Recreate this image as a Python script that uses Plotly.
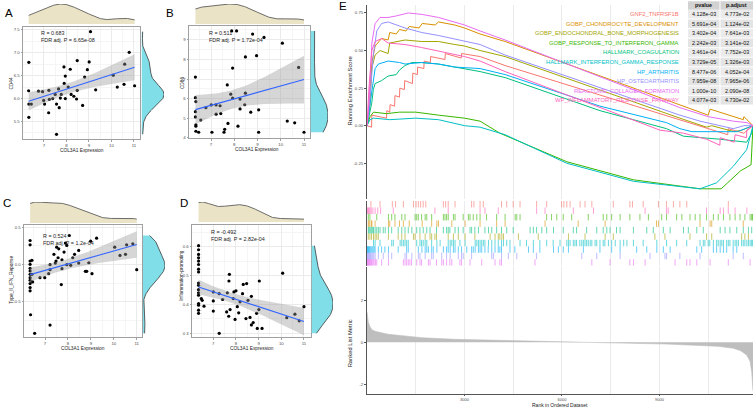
import numpy as np
import plotly.graph_objects as go

W, H = 755, 410
FONT = "Liberation Sans, Arial, sans-serif"

# ---------------- scatter panel data ----------------
A_x = [9.07, 10.79, 6.33, 8.48, 9.01, 7.89, 8.17, 8.93, 10.59, 10.08, 8.81, 7.95, 7.90, 8.08, 6.32,
       6.76, 6.94, 7.22, 7.65, 8.48, 9.30, 10.26, 10.56, 11.03, 7.77, 7.50, 7.39, 7.24, 7.73, 8.21,
       8.33, 8.45, 6.33, 6.44, 6.99, 7.03, 7.56, 7.68, 7.21, 8.72, 6.33, 7.56, 7.95]
A_y = [7.46, 7.01, 6.79, 6.83, 6.80, 6.69, 6.64, 6.63, 6.75, 6.51, 6.47, 6.49, 6.33, 6.25, 6.17,
       6.16, 6.15, 6.18, 6.21, 6.18, 6.19, 6.25, 6.31, 6.28, 6.09, 6.09, 6.00, 5.98, 6.01, 6.09,
       6.05, 5.99, 5.88, 5.88, 5.96, 5.88, 5.88, 5.80, 5.69, 5.85, 5.59, 5.22, 6.00]

B_x = [7.89, 8.10, 8.79, 9.28, 10.07, 8.48, 8.96, 7.93, 10.77, 6.33, 6.33, 6.35, 7.70, 7.85, 7.93,
       8.25, 8.48, 7.01, 7.22, 7.39, 6.78, 8.45, 8.25, 9.05, 8.71, 7.42, 7.22, 6.33, 6.33, 6.56,
       7.73, 6.35, 6.35, 8.16, 10.28, 10.60, 7.59, 6.35, 6.47, 7.04, 7.56, 9.05, 11.0]
B_y = [9.45, 9.45, 9.29, 9.12, 8.83, 8.13, 8.19, 7.56, 7.59, 7.10, 6.05, 5.85, 6.70, 6.23, 6.03,
       5.98, 6.28, 5.68, 5.68, 5.64, 5.54, 5.69, 5.48, 5.43, 5.31, 5.24, 5.21, 5.34, 5.07, 4.91,
       4.74, 4.67, 4.60, 4.60, 4.86, 4.77, 4.44, 4.34, 4.29, 4.29, 4.29, 4.29, 4.29]

C_x = [8.06, 6.35, 6.35, 9.25, 8.99, 7.89, 7.95, 7.51, 7.60, 7.83, 7.39, 8.47, 8.29, 8.21, 7.57,
       7.74, 7.48, 7.45, 7.22, 8.47, 7.95, 8.12, 8.91, 7.74, 7.22, 6.35, 6.43, 6.35, 6.35, 6.35,
       6.35, 6.35, 6.35, 6.35, 6.35, 6.35, 6.43, 6.46, 6.78, 6.99, 7.16, 8.76, 8.82, 9.05, 10.04,
       10.27, 10.51, 10.56, 10.83, 11.0, 7.71, 6.37, 7.22, 6.55]
C_y = [0.389, 0.322, 0.264, 0.353, 0.313, 0.287, 0.256, 0.233, 0.211, 0.167, 0.136, 0.189, 0.136,
       0.091, 0.091, 0.064, 0.047, 0.020, -0.002, 0.020, -0.002, -0.011, 0.024, -0.056, -0.069,
       0.047, 0.056, 0.002, -0.051, -0.087, -0.131, -0.176, -0.211, -0.256, -0.309, -0.353, -0.131,
       -0.233, -0.176, -0.176, -0.122, -0.091, -0.091, -0.122, 0.233, 0.122, 0.136, 0.264, 0.278,
       -0.069, -0.269, -0.673, -0.811, -0.922]

D_x = [6.35, 6.35, 6.35, 6.35, 6.35, 6.35, 6.35, 6.35, 6.35, 6.35, 6.35, 6.35, 6.35, 6.35, 6.35,
       6.35, 6.35, 6.47, 6.51, 6.59, 7.0, 7.0, 7.0, 7.26, 7.41, 7.62, 7.59, 7.68, 7.74, 7.71, 7.69,
       7.88, 7.91, 8.0, 7.96, 8.06, 8.12, 8.18, 8.32, 8.47, 8.29, 8.53, 8.68, 8.44, 8.62, 8.68, 8.91,
       9.01, 9.03, 8.76, 8.94, 9.15, 10.06, 10.24, 10.60, 10.79, 11.0, 7.26]
D_y = [0.603, 0.589, 0.573, 0.561, 0.550, 0.538, 0.522, 0.512, 0.474, 0.466, 0.451, 0.440, 0.432,
       0.403, 0.397, 0.380, 0.369, 0.420, 0.414, 0.394, 0.443, 0.412, 0.377, 0.437, 0.417, 0.440,
       0.374, 0.359, 0.382, 0.504, 0.481, 0.420, 0.443, 0.447, 0.348, 0.392, 0.371, 0.409, 0.469,
       0.472, 0.437, 0.414, 0.428, 0.351, 0.355, 0.329, 0.369, 0.382, 0.481, 0.337, 0.317, 0.317,
       0.508, 0.354, 0.366, 0.343, 0.392, 0.300]

PANEL_LETTERS = ["A", "B", "C", "D", "E"]
Y_TITLES = ["CD44", "CD86", "Type_II_IFN_Reponse", "Inflammation-promoting"]
X_TITLE = "COL3A1 Expression"
STAT_R = ["R = 0.683", "R = 0.511", "R = 0.524", "R = -0.492"]
STAT_P = ["FDR adj. P = 6.65e-08", "FDR adj. P = 1.72e-04", "FDR adj. P = 1.2e-04", "FDR adj. P = 2.82e-04"]
X_TICKS = [7, 8, 9, 10, 11]
A_YTICKS = [5.5, 6.0, 6.5, 7.0, 7.5]
B_YTICKS = [4, 5, 6, 7, 8, 9]
C_YTICKS = [-0.5, 0.0, 0.5]
D_YTICKS = [0.3, 0.4, 0.5, 0.6]

# ---------------- GSEA data ----------------
SET_NAMES = ["GNF2_TNFRSF1B", "GOBP_CHONDROCYTE_DEVELOPMENT", "GOBP_ENDOCHONDRAL_BONE_MORPHOGENESIS",
             "GOBP_RESPONSE_TO_INTERFERON_GAMMA", "HALLMARK_COAGULATION",
             "HALLMARK_INTERFERON_GAMMA_RESPONSE", "HP_ARTHRITIS", "HP_OSTEOARTHRITIS",
             "REACTOME_COLLAGEN_FORMATION", "WP_INFLAMMATORY_RESPONSE_PATHWAY"]
PVALUE = ["4.128e-03", "5.691e-04", "3.402e-04", "2.242e-03", "3.461e-04",
          "3.729e-05", "8.477e-06", "7.959e-08", "1.000e-10", "4.077e-03"]
PADJUST = ["4.773e-02", "1.124e-02", "7.641e-03", "3.141e-02", "7.752e-03",
           "1.326e-03", "4.052e-04", "7.965e-06", "2.090e-08", "4.730e-02"]
SET_COLORS = ["#F8766D", "#D89000", "#A3A500", "#39B600", "#00BF7D",
              "#00BFC4", "#00B0F6", "#9590FF", "#E76BF3", "#FF62BC"]
TICK_ROW = [0, 3, 5, 2, 4, 6, 7, 8, 9, 1]   # row from top in the hit strip

ES_R_GNF2 = [0, 140, 150, 600, 610, 700, 710, 850, 860, 1000, 1010, 1150, 1160, 1400, 1410, 1550, 1560,
             1750, 1760, 1950, 1960, 2400, 2410, 2900, 2910, 3480, 4250, 9630, 10500, 11100, 11120, 11600, 11880]
ES_V_GNF2 = [0, -0.01, 0.07, 0.05, 0.10, 0.09, 0.14, 0.13, 0.20, 0.19, 0.25, 0.24, 0.30, 0.28, 0.35, 0.34, 0.39,
             0.38, 0.43, 0.42, 0.46, 0.44, 0.48, 0.45, 0.48, 0.46, 0.40, 0.04, -0.02, -0.06, -0.02, -0.05, 0]
ES_R_CHONDRO = [0, 60, 150, 250, 450, 650, 700, 900, 1000, 1200, 1300, 1600, 1700, 2100, 2200, 2700, 3000,
                3480, 4250, 9630, 10500, 10560, 11275, 11580, 11600, 11880]
ES_V_CHONDRO = [0, 0.10, 0.42, 0.53, 0.58, 0.57, 0.62, 0.61, 0.64, 0.63, 0.66, 0.65, 0.68, 0.67, 0.69, 0.67,
                0.65, 0.61, 0.56, 0.14, 0.07, 0.11, 0.06, 0.04, 0.06, 0]
ES_R_ENDO = [0, 95, 145, 250, 400, 650, 700, 1170, 1680, 2200, 2700, 3000, 3480, 4250, 9630, 10450, 10610,
             11300, 11530, 11880]
ES_V_ENDO = [0, 0.15, 0.38, 0.47, 0.50, 0.48, 0.55, 0.57, 0.56, 0.56, 0.54, 0.53, 0.50, 0.46, 0.05, -0.01, 0.0,
             -0.04, -0.03, 0]
ES_R_IFNG = [0, 40, 95, 200, 600, 1000, 1500, 2200, 3000, 3480, 4090, 6150, 8200, 10250, 10900, 11100, 11500,
             11820, 11850, 11880]
ES_V_IFNG = [0, 0.02, 0.06, 0.09, 0.08, 0.09, 0.09, 0.07, 0.05, 0.03, -0.05, -0.24, -0.36, -0.42, -0.42, -0.38,
             -0.30, -0.26, -0.12, 0]
ES_R_COAG = [0, 60, 145, 195, 250, 450, 650, 900, 1000, 1170, 1380, 1680, 2200, 2700, 3480, 4250, 7170, 9220,
             9740, 10860, 11685, 11840, 11880]
ES_V_COAG = [0, 0.07, 0.15, 0.24, 0.28, 0.30, 0.33, 0.34, 0.37, 0.40, 0.42, 0.42, 0.41, 0.39, 0.36, 0.32, 0.10,
             -0.02, -0.07, -0.09, -0.11, -0.05, 0]
ES_R_IFNGR = [0, 40, 95, 200, 700, 1500, 2200, 3000, 3480, 4250, 6150, 8200, 10250, 10760, 11275, 11685, 11840,
              11880]
ES_V_IFNGR = [0, 0.02, 0.04, 0.05, 0.04, 0.05, 0.04, 0.0, -0.01, -0.06, -0.25, -0.37, -0.42, -0.38, -0.27,
              -0.16, -0.03, 0]
ES_R_ARTH = [0, 95, 195, 250, 350, 650, 1000, 1170, 1680, 2200, 2700, 3480, 4250, 7170, 9220, 9630, 10000,
             11000, 11400, 11880]
ES_V_ARTH = [0, 0.15, 0.28, 0.38, 0.41, 0.43, 0.42, 0.41, 0.42, 0.41, 0.39, 0.38, 0.34, 0.13, 0.02, -0.02,
             -0.04, -0.04, -0.04, 0]
ES_R_OSTEO = [0, 95, 195, 300, 450, 650, 1170, 1680, 2200, 3000, 3480, 4250, 9630, 10250, 11000, 11275, 11600,
              11880]
ES_V_OSTEO = [0, 0.20, 0.47, 0.63, 0.68, 0.69, 0.65, 0.62, 0.60, 0.56, 0.54, 0.47, 0.07, 0.03, -0.01, -0.02,
              0.0, 0]
ES_R_COLL = [0, 40, 95, 150, 250, 400, 650, 900, 1270, 1700, 2200, 3000, 3480, 4250, 9630, 10500, 11275,
             11700, 11880]
ES_V_COLL = [0, 0.08, 0.30, 0.55, 0.68, 0.72, 0.72, 0.73, 0.75, 0.74, 0.72, 0.67, 0.63, 0.57, 0.12, 0.06,
             0.03, 0.02, 0]
ES_R_INFL = [0, 60, 150, 250, 450, 650, 1170, 1680, 3000, 3480, 4250, 9020, 9740, 10450, 10860, 10870, 11300,
             11330, 11680, 11690, 11880]
ES_V_INFL = [0, 0.25, 0.50, 0.56, 0.58, 0.55, 0.54, 0.52, 0.46, 0.43, 0.36, -0.03, -0.05, -0.09, -0.13, -0.08,
             -0.11, -0.06, -0.08, -0.03, 0]

HITS_GNF2 = [120, 400, 780, 880, 1120, 1430, 1510, 1580, 1650, 1730, 1810, 2350, 2420, 2500, 2710, 3220, 3290,
             3480, 3580, 4140, 4300, 4500, 4710, 5220, 5530, 5990, 6060, 6150, 6250, 6560, 6710, 6920, 7580,
             8090, 8170, 8500, 8970, 9220, 9430, 9630, 9840, 11120]
HITS_CHONDRO = [40, 60, 90, 140, 150, 250, 660, 700, 860, 1000, 1120, 1300, 1700, 1990, 2150, 2200, 2610,
                3020, 3480, 3990, 4250, 5480, 6500, 7330, 8910, 8970, 10250, 10560, 10610, 11580]
HITS_ENDO = [40, 90, 140, 200, 250, 300, 350, 660, 960, 1070, 1170, 1430, 1480, 1630, 1790, 1940, 1990, 2090,
             2140, 2500, 2660, 2810, 3020, 3320, 3790, 3940, 4040, 4090, 4150, 4200, 4660, 5270, 6200, 6710,
             7330, 7580, 8860, 9170, 9940, 10450, 10610, 11530, 11630, 11740]
HITS_IFNG = [40, 90, 300, 660, 760, 860, 1070, 1170, 1480, 1530, 1580, 1680, 1790, 1840, 1990, 2350, 2400,
             2450, 2500, 2660, 2710, 2960, 3120, 3170, 3270, 3380, 3480, 3680, 3990, 4250, 4560, 4610, 4710,
             5530, 5680, 5840, 6040, 6300, 6810, 7270, 7380, 7530, 7790, 8090, 8400, 8660, 9070, 9220, 9530,
             9690, 9940, 10100, 10250, 10450, 10660, 10810, 10970, 11170, 11330, 11480, 11630, 11790, 11840,
             11860, 11875]
HITS_COAG = [40, 60, 90, 120, 150, 180, 200, 250, 300, 350, 400, 500, 560, 660, 760, 960, 1070, 1170, 1270,
             1380, 1530, 1630, 1730, 1840, 1940, 2140, 2350, 2450, 2500, 2550, 2710, 2810, 2960, 3170, 3220,
             3320, 3430, 3630, 3740, 3840, 3990, 4140, 4300, 4500, 5020, 5120, 5220, 5380, 5530, 5740, 6040,
             6350, 6450, 6760, 7070, 7270, 7380, 7480, 7680, 7790, 8200, 8610, 8810, 9120, 9330, 9740, 9890,
             10150, 10350, 10870, 11020, 11170, 11380, 11580, 11740, 11840]
HITS_IFNGR = [200, 250, 400, 760, 810, 1020, 1070, 1120, 1170, 1220, 1270, 1530, 1630, 1680, 1730, 1790, 1840,
              1990, 2150, 2250, 2500, 2560, 2610, 2660, 2710, 2860, 3020, 3330, 3380, 3430, 3480, 3530, 3580,
              3630, 3740, 3840, 3940, 4040, 4140, 4200, 4300, 4400, 4710, 4910, 5120, 5320, 5530, 5730, 5940,
              6150, 6200, 6250, 6350, 6400, 6450, 6550, 6610, 6660, 6710, 6760, 6810, 6870, 6920, 7020, 7070,
              7170, 7270, 7320, 7430, 7530, 7640, 7790, 7900, 8000, 8200, 8500, 8920, 9220, 9530, 9840, 10250,
              10350, 10400, 10500, 10550, 10660, 10760, 10810, 10870, 10920, 10970, 11070, 11120, 11170, 11270,
              11330, 11380, 11430, 11530, 11580, 11630, 11690, 11740, 11790, 11840, 11860]
HITS_ARTH = [10, 20, 30, 45, 60, 80, 100, 130, 160, 190, 220, 250, 350, 450, 550, 660, 960, 1220, 1270, 1580,
             1690, 1790, 1840, 1890, 1990, 2040, 2150, 2350, 2450, 2500, 2560, 2660, 2710, 2810, 2910, 3070,
             3220, 3270, 3330, 3430, 3480, 3530, 3630, 3730, 3840, 3940, 4040, 4090, 4140, 4400, 4550, 4970,
             5120, 5320, 5740, 5890, 6040, 6200, 6660, 7170, 7530, 7790, 8300, 8610, 8920, 9120, 9330, 10150,
             10300, 10660, 10760, 10870, 10970, 11070, 11270, 11380]
HITS_OSTEO = [10, 25, 40, 60, 80, 100, 120, 150, 180, 210, 250, 350, 500, 660, 760, 1170, 1220, 1380, 1580,
              1630, 1790, 1990, 2040, 2300, 2450, 2560, 2810, 2910, 2960, 3220, 3840, 3890, 4140, 4350, 4610,
              5220, 6610, 7070, 7790, 8710, 9170, 9220, 9630, 10250, 11270, 11580]
HITS_COLL = [5, 15, 25, 35, 45, 55, 70, 85, 100, 120, 140, 160, 190, 220, 260, 300, 450, 660, 1120, 1170, 1220,
             1270, 1320, 1370, 1530, 1630, 1680, 1890, 1940, 2140, 2300, 2350, 2450, 2550, 2610, 2860, 2910,
             3170, 3530, 3940, 4090, 4140, 5170, 6920, 7480, 8090, 8200, 8560, 9480, 9840, 9940, 10150, 10560,
             11120, 11790]
HITS_INFL = [10, 30, 50, 70, 95, 130, 180, 250, 330, 420, 810, 2090, 2500, 3480, 3630, 4040, 5220, 5480, 6350,
             6970, 8560, 9220, 9270, 10450, 10870, 10970, 11120, 11330, 11690]

RANK_POS = [1, 15, 40, 90, 150, 250, 450, 650, 1170, 1680, 2700, 4250, 5100, 6150, 7200, 8200, 9200, 10250,
            10800, 11275, 11500, 11685, 11790, 11840, 11870, 11880]
RANK_METRIC = [1.45, 1.15, 0.95, 0.75, 0.6, 0.52, 0.45, 0.38, 0.30, 0.22, 0.14, 0.08, 0.04, 0.01, -0.02, -0.05,
               -0.08, -0.13, -0.19, -0.28, -0.40, -0.60, -0.90, -1.40, -2.20, -2.30]
N_GENES = 11880

ES_RANKS = [ES_R_GNF2, ES_R_CHONDRO, ES_R_ENDO, ES_R_IFNG, ES_R_COAG, ES_R_IFNGR, ES_R_ARTH, ES_R_OSTEO,
            ES_R_COLL, ES_R_INFL]
ES_VALS = [ES_V_GNF2, ES_V_CHONDRO, ES_V_ENDO, ES_V_IFNG, ES_V_COAG, ES_V_IFNGR, ES_V_ARTH, ES_V_OSTEO,
           ES_V_COLL, ES_V_INFL]
HITS = [HITS_GNF2, HITS_CHONDRO, HITS_ENDO, HITS_IFNG, HITS_COAG, HITS_IFNGR, HITS_ARTH, HITS_OSTEO,
        HITS_COLL, HITS_INFL]


# ---------------- helpers ----------------
def dx(a, b):
    return [a / W, b / W]


def dy(top, bot):
    return [1 - bot / H, 1 - top / H]


def xn(i):
    return "x" if i == 1 else f"x{i}"


def yn(i):
    return "y" if i == 1 else f"y{i}"


def lx(i):
    return "xaxis" if i == 1 else f"xaxis{i}"


def ly(i):
    return "yaxis" if i == 1 else f"yaxis{i}"


def kde(v, n=256):
    v = np.asarray(v, float)
    sd = v.std(ddof=1)
    q75, q25 = np.percentile(v, [75, 25])
    bw = 0.9 * min(sd, (q75 - q25) / 1.34) * len(v) ** -0.2
    g = np.linspace(v.min(), v.max(), n)
    d = np.exp(-0.5 * ((g[:, None] - v[None, :]) / bw) ** 2).sum(1) / (len(v) * bw * np.sqrt(2 * np.pi))
    return g, d


def lm_band(x, y):
    x = np.asarray(x, float)
    y = np.asarray(y, float)
    n = len(x)
    b1, b0 = np.polyfit(x, y, 1)
    xr = np.linspace(x.min(), x.max(), 80)
    yh = b0 + b1 * xr
    s = np.sqrt(np.sum((y - (b0 + b1 * x)) ** 2) / (n - 2))
    se = s * np.sqrt(1 / n + (xr - x.mean()) ** 2 / np.sum((x - x.mean()) ** 2))
    t = 2.015
    return xr, yh, yh - t * se, yh + t * se


fig = go.Figure()
layout = {}
ann = []
shapes = []

TICKFONT = dict(family=FONT, size=4.3, color="#4D4D4D")
TICKFONT_SMALL = dict(family=FONT, size=4.0, color="#4D4D4D")
FRAME = "#A0A0A0"
GRID = "#EBEBEB"
GRID_MINOR = "#F5F5F5"


def fmt_tick(v, nd):
    return f"{v:.{nd}f}"


def scatter_panel(n, xs, ys, main_x, main_y, top_y, right_x, xr, yr, yticks, ynd, letter_xy,
                  stat_xy, xt_xy, yt_xy, letter, ytitle, sr, sp):
    xb, yh, lo, hi = lm_band(xs, ys)
    fig.add_trace(go.Scatter(x=xs, y=ys, mode="markers", marker=dict(color="black", size=3.2),
                             xaxis=xn(n), yaxis=yn(n), hoverinfo="skip"))
    fig.add_trace(go.Scatter(x=np.concatenate([xb, xb[::-1]]), y=np.concatenate([lo, hi[::-1]]),
                             fill="toself", fillcolor="rgba(153,153,153,0.4)", line=dict(width=0),
                             mode="lines", xaxis=xn(n), yaxis=yn(n), hoverinfo="skip"))
    fig.add_trace(go.Scatter(x=xb, y=yh, mode="lines", line=dict(color="#3366FF", width=1.1),
                             xaxis=xn(n), yaxis=yn(n), hoverinfo="skip"))
    xminor = [v + 0.5 for v in X_TICKS[:-1]] + [X_TICKS[0] - 0.5]
    step = yticks[1] - yticks[0]
    yminor = [v + step / 2 for v in yticks] + [yticks[0] - step / 2]
    layout[lx(n)] = dict(domain=dx(*main_x), range=xr, anchor=yn(n), tickvals=X_TICKS,
                         ticktext=[str(v) for v in X_TICKS], showgrid=True, gridcolor=GRID, gridwidth=0.6,
                         minor=dict(tickvals=xminor, showgrid=True, gridcolor=GRID_MINOR, gridwidth=0.4,
                                    ticks=""),
                         showline=True, mirror=True, linecolor=FRAME, linewidth=0.8, ticks="outside",
                         ticklen=1.5, tickwidth=0.6, tickcolor=FRAME, tickfont=TICKFONT, zeroline=False)
    layout[ly(n)] = dict(domain=dy(*main_y), range=yr, anchor=xn(n), tickvals=yticks,
                         ticktext=[fmt_tick(v, ynd) for v in yticks], showgrid=True, gridcolor=GRID,
                         gridwidth=0.6,
                         minor=dict(tickvals=yminor, showgrid=True, gridcolor=GRID_MINOR, gridwidth=0.4,
                                    ticks=""),
                         showline=True, mirror=True, linecolor=FRAME, linewidth=0.8, ticks="outside",
                         ticklen=1.5, tickwidth=0.6, tickcolor=FRAME, tickfont=TICKFONT, zeroline=False)
    g, d = kde(xs)
    fig.add_trace(go.Scatter(x=g, y=d, mode="lines", fill="tozeroy", fillcolor="#EAE3C6",
                             line=dict(color="#4A4A4A", width=0.8), xaxis=xn(n + 1), yaxis=yn(n + 1),
                             hoverinfo="skip"))
    layout[lx(n + 1)] = dict(domain=dx(*main_x), range=xr, anchor=yn(n + 1), visible=False)
    layout[ly(n + 1)] = dict(domain=dy(*top_y), range=[0, d.max() * 1.0], anchor=xn(n + 1), visible=False)
    g2, d2 = kde(ys)
    fig.add_trace(go.Scatter(x=d2, y=g2, mode="lines", fill="tozerox", fillcolor="#80DEE8",
                             line=dict(color="#3A3A3A", width=0.8), xaxis=xn(n + 2), yaxis=yn(n + 2),
                             hoverinfo="skip"))
    layout[lx(n + 2)] = dict(domain=dx(*right_x), range=[0, d2.max() * 1.0], anchor=yn(n + 2), visible=False)
    layout[ly(n + 2)] = dict(domain=dy(*main_y), range=yr, anchor=xn(n + 2), visible=False)
    ann.append(dict(text=letter, x=letter_xy[0] / W, y=1 - letter_xy[1] / H, xref="paper", yref="paper",
                    xanchor="left", yanchor="middle", showarrow=False,
                    font=dict(family=FONT, size=11.5, color="black")))
    ann.append(dict(text=sr, x=stat_xy[0] / W, y=1 - stat_xy[1] / H, xref="paper", yref="paper",
                    xanchor="left", yanchor="middle", showarrow=False,
                    font=dict(family=FONT, size=5.4, color="#222")))
    ann.append(dict(text=sp, x=stat_xy[0] / W, y=1 - (stat_xy[1] + 6.5) / H, xref="paper", yref="paper",
                    xanchor="left", yanchor="middle", showarrow=False,
                    font=dict(family=FONT, size=5.4, color="#222")))
    ann.append(dict(text=X_TITLE, x=xt_xy[0] / W, y=1 - xt_xy[1] / H, xref="paper", yref="paper",
                    xanchor="center", yanchor="middle", showarrow=False,
                    font=dict(family=FONT, size=4.8, color="#222")))
    ann.append(dict(text=ytitle, x=yt_xy[0] / W, y=1 - yt_xy[1] / H, xref="paper", yref="paper",
                    xanchor="center", yanchor="middle", showarrow=False, textangle=-90,
                    font=dict(family=FONT, size=4.8, color="#222")))


scatter_panel(1, A_x, A_y, (23, 140), (27, 140), (4, 24), (141.5, 164), [6.07, 11.27], [5.11, 7.565],
              A_YTICKS, 1, (2.5, 13.3), (39.3, 33.3), (81.7, 151.5), (12, 84), PANEL_LETTERS[0], Y_TITLES[0],
              STAT_R[0], STAT_P[0])
scatter_panel(4, B_x, B_y, (189, 310), (26, 139), (4, 24), (310.5, 328), [6.054, 11.258], [3.98, 9.71],
              B_YTICKS, 0, (163.5, 13.0), (206.7, 33.3), (256.7, 150.5), (182.5, 83), PANEL_LETTERS[1],
              Y_TITLES[1], STAT_R[1], STAT_P[1])
scatter_panel(7, C_x, C_y, (24, 142), (226, 339), (203, 224), (143, 165), [6.084, 11.23], [-0.976, 0.531],
              C_YTICKS, 1, (0.5, 204), (40.7, 237.3), (83.3, 350.5), (11.5, 281.7), PANEL_LETTERS[2],
              Y_TITLES[2], STAT_R[2], STAT_P[2])
scatter_panel(10, D_x, D_y, (192, 311), (226, 339), (203, 223), (311.5, 333), [6.06, 11.31], [0.286, 0.675],
              D_YTICKS, 1, (177.5, 204), (209.3, 233.3), (251.7, 350.5), (181.5, 276.7), PANEL_LETTERS[3],
              Y_TITLES[3], STAT_R[3], STAT_P[3])

# ---------------- panel E ----------------
EX = (367, 753)
AXC = "#555555"
xminor_common = dict(dtick=1500, tick0=0, showgrid=True, gridcolor=GRID, gridwidth=0.6, ticks="")

for i in range(10):
    fig.add_trace(go.Scatter(x=ES_RANKS[i], y=ES_VALS[i], mode="lines",
                             line=dict(color=SET_COLORS[i], width=1.0), xaxis="x13", yaxis="y13",
                             hoverinfo="skip"))
layout["xaxis13"] = dict(domain=dx(*EX), range=[0, N_GENES], anchor="y13", showticklabels=False,
                         tickvals=[3000, 6000, 9000], showgrid=True, gridcolor=GRID, gridwidth=0.6,
                         minor=xminor_common, zeroline=False, showline=False, ticks="")
layout["yaxis13"] = dict(domain=dy(5, 200), range=[-0.488, 0.803], anchor="x13",
                         tickvals=[-0.25, 0, 0.25, 0.5, 0.75], ticktext=["-0.25", "0.00", "0.25", "0.50", "0.75"],
                         showgrid=False, zeroline=False, showline=True, linecolor=AXC, linewidth=0.9,
                         ticks="outside", ticklen=2, tickwidth=0.6, tickcolor=AXC, tickfont=TICKFONT)

for i in range(10):
    r = TICK_ROW[i]
    ytop = 10 - r
    xs, ys = [], []
    for h in HITS[i]:
        xs += [h, h, None]
        ys += [ytop - 1, ytop, None]
    fig.add_trace(go.Scatter(x=xs, y=ys, mode="lines", line=dict(color=SET_COLORS[i], width=0.8),
                             opacity=0.75, xaxis="x14", yaxis="y14", hoverinfo="skip"))
layout["xaxis14"] = dict(domain=dx(*EX), range=[0, N_GENES], anchor="y14", showticklabels=False,
                         tickvals=[3000, 6000, 9000], showgrid=True, gridcolor=GRID, gridwidth=0.6,
                         minor=xminor_common, zeroline=False, showline=False, ticks="")
layout["yaxis14"] = dict(domain=dy(202, 267), range=[0, 10], anchor="x14", showticklabels=False,
                         showgrid=False, zeroline=False, showline=True, linecolor=AXC, linewidth=0.9, ticks="")

fig.add_trace(go.Scatter(x=RANK_POS, y=RANK_METRIC, mode="lines", fill="tozeroy", fillcolor="#BEBEBE",
                         line=dict(color="#BEBEBE", width=0.6), xaxis="x15", yaxis="y15", hoverinfo="skip"))
layout["xaxis15"] = dict(domain=dx(*EX), range=[0, N_GENES], anchor="y15", tickvals=[3000, 6000, 9000],
                         ticktext=["3000", "6000", "9000"], showgrid=True, gridcolor=GRID, gridwidth=0.6,
                         minor=xminor_common, zeroline=False, showline=True, linecolor=AXC, linewidth=0.9,
                         ticks="outside", ticklen=1, tickwidth=0.6, tickcolor=AXC, tickfont=TICKFONT_SMALL)
layout["yaxis15"] = dict(domain=dy(268, 396), range=[-2.45, 3.58], anchor="x15", tickvals=[-2, 0, 2],
                         ticktext=["-2", "0", "2"], showgrid=False, zeroline=False, showline=True,
                         linecolor=AXC, linewidth=0.9, ticks="outside", ticklen=2, tickwidth=0.6,
                         tickcolor=AXC, tickfont=TICKFONT)

ann.append(dict(text=PANEL_LETTERS[4], x=336.5 / W, y=1 - 6.5 / H, xref="paper", yref="paper",
                xanchor="left", yanchor="middle", showarrow=False, font=dict(family=FONT, size=11.5, color="black")))
ann.append(dict(text="Running Enrichment Score", x=350 / W, y=1 - 92 / H, xref="paper", yref="paper",
                textangle=-90, showarrow=False, xanchor="center", yanchor="middle",
                font=dict(family=FONT, size=5.8, color="#222")))
ann.append(dict(text="Ranked List Metric", x=350 / W, y=1 - 345 / H, xref="paper", yref="paper",
                textangle=-90, showarrow=False, xanchor="center", yanchor="middle",
                font=dict(family=FONT, size=5.8, color="#222")))
ann.append(dict(text="Rank in Ordered Dataset", x=560 / W, y=1 - 407.4 / H, xref="paper", yref="paper",
                showarrow=False, xanchor="center", yanchor="middle",
                font=dict(family=FONT, size=5.0, color="#222")))

COL1 = (688, 719.5)
COL2 = (720.5, 753)
HEAD_Y = 5.5
ROW0_Y = 14.3
ROW_DY = 9.6
for (c0, c1), lab in zip([COL1, COL2], ["pvalue", "p.adjust"]):
    shapes.append(dict(type="rect", xref="paper", yref="paper", x0=c0 / W, x1=c1 / W,
                       y0=1 - (HEAD_Y + 4.2) / H, y1=1 - (HEAD_Y - 4.2) / H, fillcolor="#D2D2D2",
                       line=dict(width=0), layer="above"))
    ann.append(dict(text=f"<b>{lab}</b>", x=(c0 + c1) / 2 / W, y=1 - HEAD_Y / H, xref="paper", yref="paper",
                    showarrow=False, xanchor="center", yanchor="middle",
                    font=dict(family=FONT, size=5.4, color="#111")))
for i in range(10):
    yc = ROW0_Y + ROW_DY * i
    for (c0, c1), val in zip([COL1, COL2], [PVALUE[i], PADJUST[i]]):
        shapes.append(dict(type="rect", xref="paper", yref="paper", x0=c0 / W, x1=c1 / W,
                           y0=1 - (yc + 4.3) / H, y1=1 - (yc - 4.3) / H,
                           fillcolor="#EBEBEB" if i % 2 == 0 else "#E4E4E4", line=dict(width=0), layer="above"))
        ann.append(dict(text=val, x=(c0 + c1) / 2 / W, y=1 - yc / H, xref="paper", yref="paper",
                        showarrow=False, xanchor="center", yanchor="middle",
                        font=dict(family=FONT, size=5.4, color="#111")))
    ann.append(dict(text=SET_NAMES[i], x=681 / W, y=1 - yc / H, xref="paper", yref="paper",
                    showarrow=False, xanchor="right", yanchor="middle",
                    font=dict(family=FONT, size=5.8, color=SET_COLORS[i])))

fig.update_layout(width=W, height=H, margin=dict(l=0, r=0, t=0, b=0), paper_bgcolor="white",
                  plot_bgcolor="white", showlegend=False, annotations=ann, shapes=shapes, **layout)
fig.write_html("out.html")
